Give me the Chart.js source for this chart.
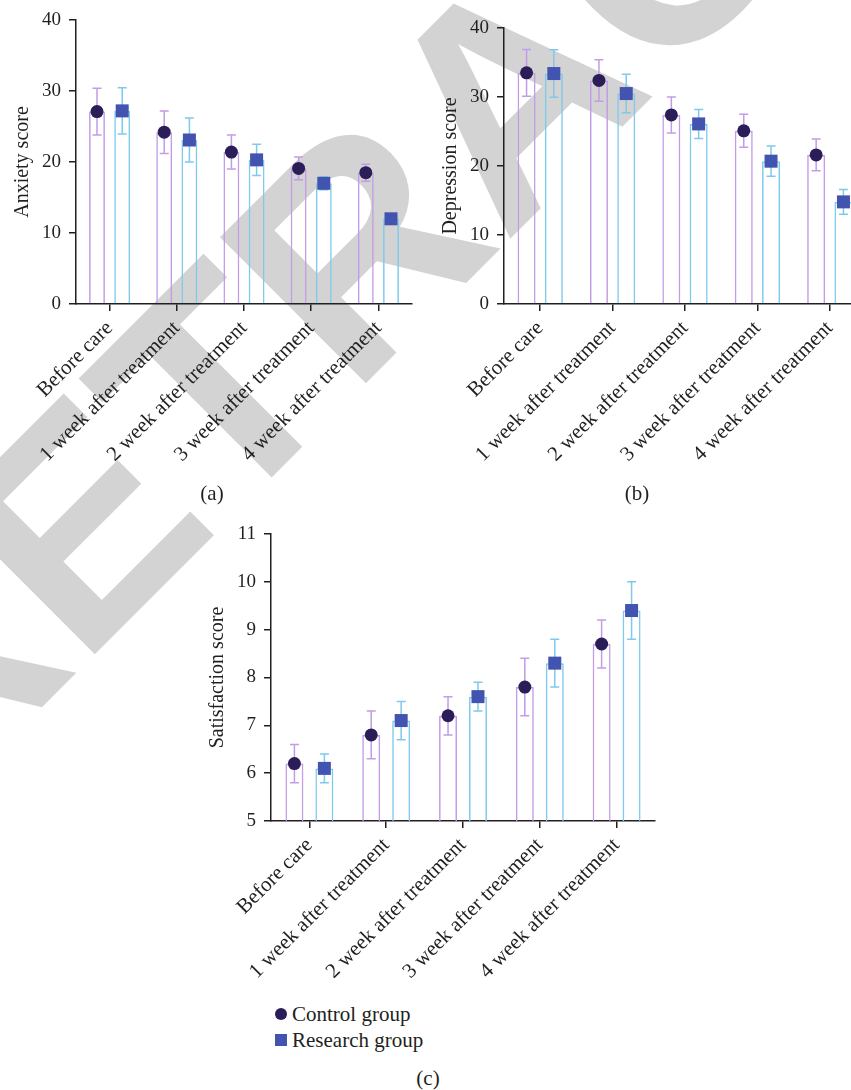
<!DOCTYPE html>
<html>
<head>
<meta charset="utf-8">
<script src="https://cdn.jsdelivr.net/npm/chart.js@4.4.0/dist/chart.umd.min.js"></script>
<style>
  html, body { margin: 0; padding: 0; background: #fff; overflow: hidden; }
  body { width: 851px; height: 1090px; position: relative; font-family: "Liberation Serif", serif; color: #231f20; }
  #stamp { position: absolute; left: 508px; top: 94px; transform: translate(-50%, -50%) rotate(-45deg);
           font: bold 300px "Liberation Sans", sans-serif; color: #d3d3d3; white-space: nowrap; line-height: 1; }
  canvas { position: absolute; display: block; }
  .cap { position: absolute; font-size: 21px; transform: translate(-50%, -50%); }
  .legend { position: absolute; left: 275px; top: 1001px; font-size: 21px; line-height: 26px; }
  .legend div { display: flex; align-items: center; }
  .legend i { display: inline-block; width: 12px; height: 12px; margin-right: 5px; }
</style>
</head>
<body>
<div id="stamp">RETRACTED</div>
<canvas id="chartA" width="425" height="470" style="left:0;top:0"></canvas>
<canvas id="chartB" width="438" height="470" style="left:428px;top:0"></canvas>
<canvas id="chartC" width="470" height="500" style="left:195px;top:500px"></canvas>
<div class="cap" style="left:212px;top:493px">(a)</div>
<div class="cap" style="left:637px;top:493px">(b)</div>
<div class="legend">
  <div><i style="background:#2b1d58;border-radius:50%"></i>Control group</div>
  <div><i style="background:#4354b0"></i>Research group</div>
</div>
<div class="cap" style="left:428px;top:1078px">(c)</div>

<script>
document.addEventListener('DOMContentLoaded', function() {
  const periods = ['Before care', '1 week after treatment', '2 week after treatment', '3 week after treatment', '4 week after treatment'];

  const anxietyControl = [27.1, 24.2, 21.4, 19.1, 18.5];
  const anxietyControlSd = [3.3, 3.0, 2.4, 1.6, 1.2];
  const anxietyResearch = [27.2, 23.1, 20.3, 17.0, 12.0];
  const anxietyResearchSd = [3.25, 3.1, 2.2, 0.9, 0.4];

  const depressionControl = [33.5, 32.4, 27.4, 25.1, 21.6];
  const depressionControlSd = [3.4, 3.0, 2.6, 2.4, 2.3];
  const depressionResearch = [33.4, 30.5, 26.1, 20.7, 14.8];
  const depressionResearchSd = [3.45, 2.8, 2.1, 2.2, 1.8];

  const satisfactionControl = [6.2, 6.8, 7.2, 7.8, 8.7];
  const satisfactionControlSd = [0.4, 0.5, 0.4, 0.6, 0.5];
  const satisfactionResearch = [6.1, 7.1, 7.6, 8.3, 9.4];
  const satisfactionResearchSd = [0.3, 0.4, 0.3, 0.5, 0.6];

  const ink = '#231f20';
  const purple = '#c39be6';
  const cyan = '#7ec9ec';
  const navy = '#2b1d58';
  const blue = '#4354b0';

  Chart.defaults.font.family = 'Liberation Serif';
  Chart.defaults.color = ink;

  // error bars + markers sitting on the library's own bar positions
  const markerPlugin = {
    id: 'markers',
    afterDatasetsDraw(chart) {
      const ctx = chart.ctx;
      const yScale = chart.scales.y;
      chart.data.datasets.forEach((ds, i) => {
        const meta = chart.getDatasetMeta(i);
        meta.data.forEach((bar, j) => {
          const x = bar.x;
          const yMid = yScale.getPixelForValue(ds.data[j]);
          const yHi = yScale.getPixelForValue(ds.data[j] + ds.sd[j]);
          const yLo = yScale.getPixelForValue(ds.data[j] - ds.sd[j]);
          ctx.save();
          ctx.strokeStyle = ds.borderColor;
          ctx.lineWidth = 1.5;
          ctx.beginPath();
          ctx.moveTo(x, yHi); ctx.lineTo(x, yLo);
          ctx.moveTo(x - 4.5, yHi); ctx.lineTo(x + 4.5, yHi);
          ctx.moveTo(x - 4.5, yLo); ctx.lineTo(x + 4.5, yLo);
          ctx.stroke();
          ctx.fillStyle = ds.markerColor;
          if (ds.marker === 'circle') {
            ctx.beginPath();
            ctx.arc(x, yMid, 6.5, 0, Math.PI * 2);
            ctx.fill();
          } else {
            ctx.fillRect(x - 6.5, yMid - 6.5, 13, 13);
          }
          ctx.restore();
        });
      });
    }
  };

  function makeChart(id, cfg) {
    const ctx = document.getElementById(id).getContext('2d');
    return new Chart(ctx, {
      type: 'bar',
      data: {
        labels: periods,
        datasets: [{
          label: 'Control group',
          data: cfg.control,
          sd: cfg.controlSd,
          marker: 'circle',
          markerColor: navy,
          backgroundColor: 'rgba(0,0,0,0)',
          borderColor: purple,
          borderWidth: 1.5,
          borderSkipped: 'bottom',
          categoryPercentage: cfg.catPct,
          barPercentage: cfg.barPct
        }, {
          label: 'Research group',
          data: cfg.research,
          sd: cfg.researchSd,
          marker: 'square',
          markerColor: blue,
          backgroundColor: 'rgba(0,0,0,0)',
          borderColor: cyan,
          borderWidth: 1.5,
          borderSkipped: 'bottom',
          categoryPercentage: cfg.catPct,
          barPercentage: cfg.barPct
        }]
      },
      options: {
        responsive: false,
        animation: false,
        layout: { padding: cfg.padding },
        plugins: {
          legend: { display: false },
          tooltip: { enabled: false }
        },
        scales: {
          x: {
            offset: true,
            afterFit: s => { s.height = cfg.xHeight; },
            grid: { offset: false, drawOnChartArea: false, tickLength: 7, color: ink, lineWidth: 1.5 },
            border: { color: ink, width: 1.5 },
            ticks: { autoSkip: false, minRotation: 45, maxRotation: 45, padding: 5, font: { size: 21 } }
          },
          y: {
            min: cfg.min,
            max: cfg.max,
            afterFit: s => { s.width = 76; },
            grid: { drawOnChartArea: false, tickLength: 7, color: ink, lineWidth: 1.5 },
            border: { color: ink, width: 1.5 },
            ticks: { stepSize: cfg.step, padding: 8, font: { size: 19 } },
            title: { display: true, text: cfg.title, font: { size: 20 }, padding: { top: 11, bottom: 0 } }
          }
        }
      },
      plugins: [markerPlugin]
    });
  }

  makeChart('chartA', {
    control: anxietyControl, controlSd: anxietyControlSd,
    research: anxietyResearch, researchSd: anxietyResearchSd,
    min: 0, max: 40, step: 10, title: 'Anxiety score',
    padding: { top: 20, right: 13, left: 0, bottom: 0 }, xHeight: 166,
    catPct: 0.75, barPct: 0.63
  });

  makeChart('chartB', {
    control: depressionControl, controlSd: depressionControlSd,
    research: depressionResearch, researchSd: depressionResearchSd,
    min: 0, max: 40, step: 10, title: 'Depression score',
    padding: { top: 28, right: 0, left: 0, bottom: 0 }, xHeight: 166,
    catPct: 0.754, barPct: 0.66
  });

  makeChart('chartC', {
    control: satisfactionControl, controlSd: satisfactionControlSd,
    research: satisfactionResearch, researchSd: satisfactionResearchSd,
    min: 5, max: 11, step: 1, title: 'Satisfaction score',
    padding: { top: 34, right: 10, left: 0, bottom: 0 }, xHeight: 179,
    catPct: 0.78, barPct: 0.6
  });
});
</script>
</body>
</html>
